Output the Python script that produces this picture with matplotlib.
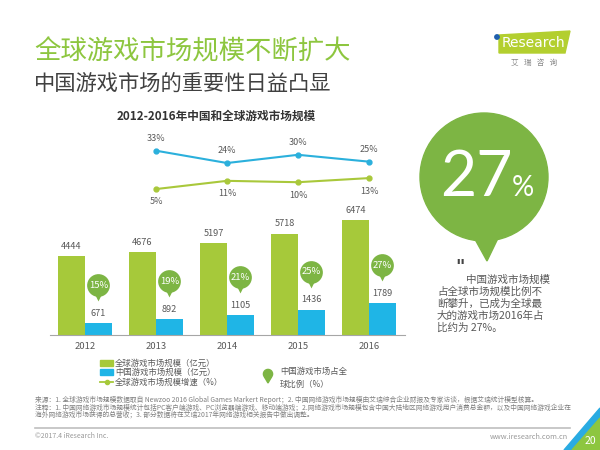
import matplotlib.pyplot as plt
from matplotlib.patches import Circle, Polygon, Rectangle

plt.rcParams['font.family'] = ['Noto Sans CJK SC', 'DejaVu Sans']

years = ['2012', '2013', '2014', '2015', '2016']
global_size = [4444, 4676, 5197, 5718, 6474]
china_size = [671, 892, 1105, 1436, 1789]
china_share = [15, 19, 21, 25, 27]
growth_years = ['2013', '2014', '2015', '2016']
global_growth = [5, 11, 10, 13]
china_growth = [33, 24, 30, 25]

GREEN_BAR = '#A6C93A'
BLUE_BAR = '#1FB5E6'
BUBBLE = '#7DB544'
TEXT = '#595959'

fig = plt.figure(figsize=(6, 4.5), dpi=100)

# page overlay in pixel coordinates (titles, logo, callout, legend, footer)
page = fig.add_axes([0, 0, 1, 1], zorder=0)
page.set_xlim(0, 600)
page.set_ylim(450, 0)
page.axis('off')

page.text(34, 52, '全球游戏市场规模不断扩大', fontsize=19, color='#8DC63F', va='center')
page.text(34, 85, '中国游戏市场的重要性日益凸显', fontsize=15.3, color='#404040', va='center')
page.text(216, 116, '2012-2016年中国和全球游戏市场规模', fontsize=8.4, fontweight='bold',
          color='#333333', ha='center', va='center')

# logo
page.add_patch(Polygon([(499, 35), (570, 31), (565, 53), (499, 53)], color='#B3CF2F'))
page.add_patch(Circle((497, 37), 2.2, color='#1F5FAE'))
page.text(502, 43, 'Research', fontsize=10, color='white', va='center', family='DejaVu Sans')
page.text(534, 63, '艾   瑞   咨   询', fontsize=5.5, color='#888888', ha='center', va='center')

# big callout
page.add_patch(Circle((484, 177), 64, color=BUBBLE))
page.add_patch(Polygon([(471, 232), (501, 232), (487, 261)], color=BUBBLE))
page.text(476, 196, '27', fontsize=45, color='white', ha='center', va='baseline',
          family=['Lato', 'DejaVu Sans'])
page.text(512, 196, '%', fontsize=20, color='white', ha='left', va='baseline',
          family=['Lato', 'DejaVu Sans'])
page.text(455, 272, '"', fontsize=13, color='#444444', style='italic', fontweight='bold',
          family='DejaVu Sans')
desc = ['中国游戏市场规模', '占全球市场规模比例不', '断攀升，已成为全球最',
        '大的游戏市场2016年占', '比约为 27%。']
for i, line in enumerate(desc):
    page.text(466 if i == 0 else 437, 280 + i * 12, line, fontsize=7.6, color=TEXT, va='center')

# legend
page.add_patch(Rectangle((100, 360), 13, 6, color=GREEN_BAR))
page.add_patch(Rectangle((100, 369), 13, 6, color=BLUE_BAR))
page.plot([100, 113], [382, 382], color=GREEN_BAR, lw=1.3)
page.plot([106.5], [382], 'o', color=GREEN_BAR, ms=3)
page.text(115, 363, '全球游戏市场规模（亿元）', fontsize=6, color=TEXT, va='center')
page.text(115, 372, '中国游戏市场规模（亿元）', fontsize=6, color=TEXT, va='center')
page.text(115, 382, '全球游戏市场规模增速（%）', fontsize=6, color=TEXT, va='center')
page.add_patch(Circle((268, 374), 4.6, color=BUBBLE))
page.add_patch(Polygon([(264.5, 377), (271.5, 377), (268, 383)], color=BUBBLE))
page.text(280, 371, '中国游戏市场占全', fontsize=6, color=TEXT, va='center')
page.text(280, 384, '球比例（%）', fontsize=6, color=TEXT, va='center')

# footer
notes = ['来源：1. 全球游戏市场规模数据取自 Newzoo 2016 Global Games Markert Report；2. 中国网络游戏市场规模由艾瑞综合企业财报及专家访谈，根据艾瑞统计模型核算。',
         '注释：1. 中国网络游戏市场规模统计包括PC客户端游戏、PC浏览器端游戏、移动端游戏；2.网络游戏市场规模包含中国大陆地区网络游戏用户消费总金额，以及中国网络游戏企业在',
         '海外网络游戏市场获得的总营收；3. 部分数据将在艾瑞2017年网络游戏相关报告中做出调整。']
for i, line in enumerate(notes):
    page.text(35, 400 + i * 7.5, line, fontsize=4.85, color='#7F7F7F', va='center')
page.plot([35, 570], [428, 428], color='#BFBFBF', lw=1.2)
page.text(35, 436, '©2017.4 iResearch Inc.', fontsize=5, color='#999999', va='center')
page.text(568, 437, 'www.iresearch.com.cn', fontsize=5.3, color='#999999', ha='right', va='center')
page.add_patch(Polygon([(564, 450), (600, 408), (600, 418), (572, 450)], color='#29ABE2'))
page.add_patch(Polygon([(572, 450), (600, 418), (600, 450)], color='#8DC63F'))
page.text(590, 441, '20', fontsize=7.5, color='white', ha='center', va='center')

# main chart
ax = fig.add_axes([49.5 / 600, 115 / 450, 355 / 600, 205 / 450], zorder=2)
ax.patch.set_alpha(0)
x = list(range(len(years)))
w = 0.38
gx = [i - w / 2 for i in x]
cx = [i + w / 2 for i in x]
ax.bar(gx, global_size, width=w, color=GREEN_BAR)
ax.bar(cx, china_size, width=w, color=BLUE_BAR)
for xi, v in zip(gx, global_size):
    ax.annotate(str(v), (xi, v), xytext=(0, 7), textcoords='offset points',
                ha='center', va='center', fontsize=6.6, color=TEXT)
for xi, v in zip(cx, china_size):
    ax.annotate(str(v), (xi, v), xytext=(0, 7), textcoords='offset points',
                ha='center', va='center', fontsize=6.6, color=TEXT)

# share bubbles above the China bars
for xi, v, s in zip(cx, china_size, china_share):
    by = v + 38 * 56.4
    ax.scatter([xi], [by], s=268, color=BUBBLE, linewidths=0, zorder=3)
    ax.scatter([xi], [by - 11 * 56.4], s=50, marker='v', color=BUBBLE, linewidths=0, zorder=3)
    ax.text(xi, by, f'{s}%', ha='center', va='center', fontsize=6.8, color='white', zorder=4)

ax.set_xlim(-0.5, 4.5)
ax.set_ylim(0, 11562)
ax.set_xticks(x)
ax.set_xticklabels(years)
ax.set_yticks([])
ax.tick_params(axis='x', length=0, pad=5, labelsize=6.8, labelcolor=TEXT)
for side in ['left', 'right', 'top']:
    ax.spines[side].set_visible(False)
ax.spines['bottom'].set_color('#A6A6A6')

ax2 = ax.twinx()
ax2.set_ylim(-101.5, 48.1)
ax2.axis('off')
lx = [years.index(y) for y in growth_years]
ax2.plot(lx, china_growth, color='#2BB0DC', lw=1.5, marker='o', ms=3.5)
ax2.plot(lx, global_growth, color='#A9C83B', lw=1.5, marker='o', ms=3.5)
for xi, v in zip(lx, china_growth):
    ax2.annotate(f'{v}%', (xi, v), xytext=(0, 9), textcoords='offset points',
                 ha='center', va='center', fontsize=6.5, color=TEXT)
for xi, v in zip(lx, global_growth):
    ax2.annotate(f'{v}%', (xi, v), xytext=(0, -9.3), textcoords='offset points',
                 ha='center', va='center', fontsize=6.5, color=TEXT)

fig.savefig('out.png', dpi=100)
